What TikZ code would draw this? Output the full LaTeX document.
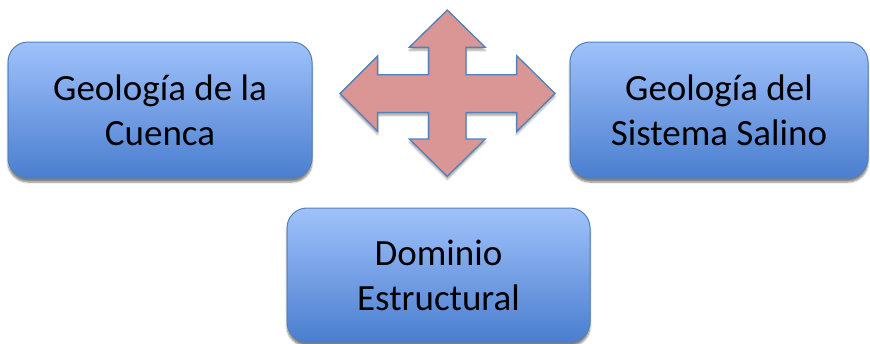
\documentclass[tikz,border=0pt]{standalone}
\usepackage{fontspec}
\setmainfont{Carlito}
\usetikzlibrary{shadows.blur}
\definecolor{boxtop}{HTML}{A0C2FB}
\definecolor{boxbot}{HTML}{4A7ECF}
\definecolor{boxline}{HTML}{4F81BD}
\definecolor{arrowfill}{HTML}{D99694}
\definecolor{arrowline}{HTML}{4F81BD}
\tikzset{
  bluebox/.style={draw=boxline, line width=1pt, rounded corners=20pt,
    top color=boxtop, bottom color=boxbot,
    blur shadow={shadow xshift=0pt, shadow yshift=-4pt, shadow blur steps=6, shadow opacity=50},
    minimum width=#1, align=center,
    font=\fontsize{37}{45}\selectfont, text=black, inner sep=0pt},
  crossarrow/.style={draw=arrowline, line width=1.3pt, fill=arrowfill, line join=miter,
    blur shadow={shadow xshift=0pt, shadow yshift=-3pt, shadow blur steps=5, shadow opacity=35}}
}
\begin{document}
\begin{tikzpicture}[x=1pt,y=-1pt]
\useasboundingbox (0,0) rectangle (870,343);
\node[bluebox=304pt, minimum height=136pt] (cuenca) at (160,110) {Geología de la\\Cuenca};
\node[bluebox=298pt, minimum height=136pt] (salino) at (719,110) {Geología del\\Sistema Salino};
\node[bluebox=303pt, minimum height=134pt] (dominio) at (438.5,275) {Dominio\\Estructural};
\coordinate (c) at (447.3,93.7);
\draw[crossarrow] (c)
  ++(-18.7,-19) -- ++(0,-27.4) -- ++(-19.3,0) -- ++(38,-37.3) -- ++(38,37.3) -- ++(-19.3,0) -- ++(0,27.4)
  -- ++(50.7,0) -- ++(0,-19) -- ++(38.3,37.7) -- ++(-38.3,38) -- ++(0,-19) -- ++(-50.7,0)
  -- ++(0,26.6) -- ++(19.3,0) -- ++(-38,37.4) -- ++(-38,-37.4) -- ++(19.3,0) -- ++(0,-26.6)
  -- ++(-51,0) -- ++(0,19) -- ++(-37.7,-37.7) -- ++(37.7,-37.7) -- ++(0,18.7) -- cycle;
\end{tikzpicture}
\end{document}
